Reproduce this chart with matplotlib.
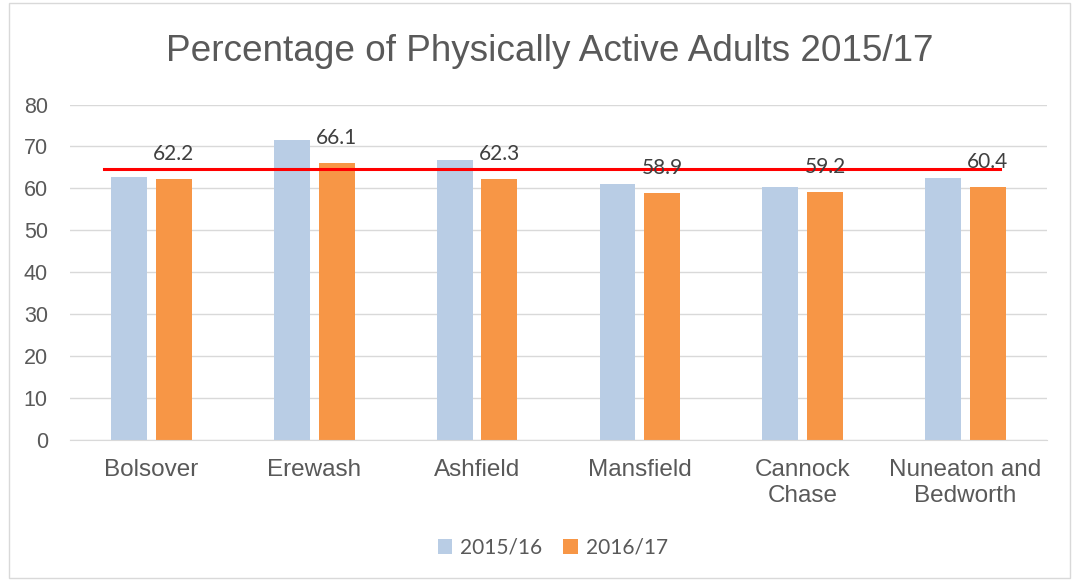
import matplotlib.pyplot as plt
import numpy as np
from matplotlib.patches import Rectangle

categories = ["Bolsover", "Erewash", "Ashfield", "Mansfield", "Cannock\nChase", "Nuneaton and\nBedworth"]
series_names = ["2015/16", "2016/17"]
vals_1516 = [62.6, 71.6, 66.7, 61.1, 60.3, 62.5]
vals_1617 = [62.2, 66.1, 62.3, 58.9, 59.2, 60.4]
reference_line = 64.6

blue = "#B9CDE5"
orange = "#F79646"
text_col = "#595959"

fig = plt.figure(figsize=(10.78, 5.81), dpi=100)
ax = fig.add_axes([0.065, 0.243, 0.906, 0.577])

x = np.arange(len(categories))
w = 0.22
gap = 0.055
b1 = ax.bar(x - (w + gap) / 2, vals_1516, w, color=blue, label=series_names[0], zorder=2)
b2 = ax.bar(x + (w + gap) / 2, vals_1617, w, color=orange, label=series_names[1], zorder=2)

# data labels only on the 2016/17 bars, sitting a bit above them
for xi, v in zip(x + (w + gap) / 2, vals_1617):
    ax.text(xi, v + 6, f"{v:.1f}", ha="center", va="center", fontsize=15,
            color="#404040", family="Lato", zorder=4)

ax.plot([-0.29, len(categories) - 1 + 0.215], [reference_line] * 2, color="red", lw=2.2, zorder=3)

ax.set_ylim(0, 80)
ax.set_xlim(-0.5, len(categories) - 0.5)
ax.set_yticks(range(0, 81, 10))
ax.set_xticks(x)
ax.set_xticklabels(categories, linespacing=1.2)
ax.yaxis.grid(True, color="#D9D9D9", lw=1, zorder=0)
for s in ["top", "right", "left"]:
    ax.spines[s].set_visible(False)
ax.spines["bottom"].set_color("#D9D9D9")
ax.tick_params(axis="y", length=0, labelsize=15.5, labelcolor=text_col, pad=16)
ax.tick_params(axis="x", length=0, labelsize=17.5, labelcolor=text_col, pad=14)
for lab in ax.get_xticklabels() + ax.get_yticklabels():
    lab.set_family("Liberation Sans")

fig.text(0.51, 0.912, "Percentage of Physically Active Adults 2015/17", ha="center", va="center",
         fontsize=26.6, color=text_col, family="Liberation Sans")

fig.legend(handles=[b1, b2], loc="center", bbox_to_anchor=(0.513, 0.057), ncol=2, frameon=False,
           prop={"family": "Lato", "size": 15}, labelcolor=text_col, handlelength=0.7,
           handleheight=0.7, columnspacing=1.0, handletextpad=0.4)

fig.patches.append(Rectangle((0.008, 0.005), 0.985, 0.99, transform=fig.transFigure,
                             fill=False, edgecolor="#D9D9D9", lw=1))

fig.savefig("out.png", dpi=100)
